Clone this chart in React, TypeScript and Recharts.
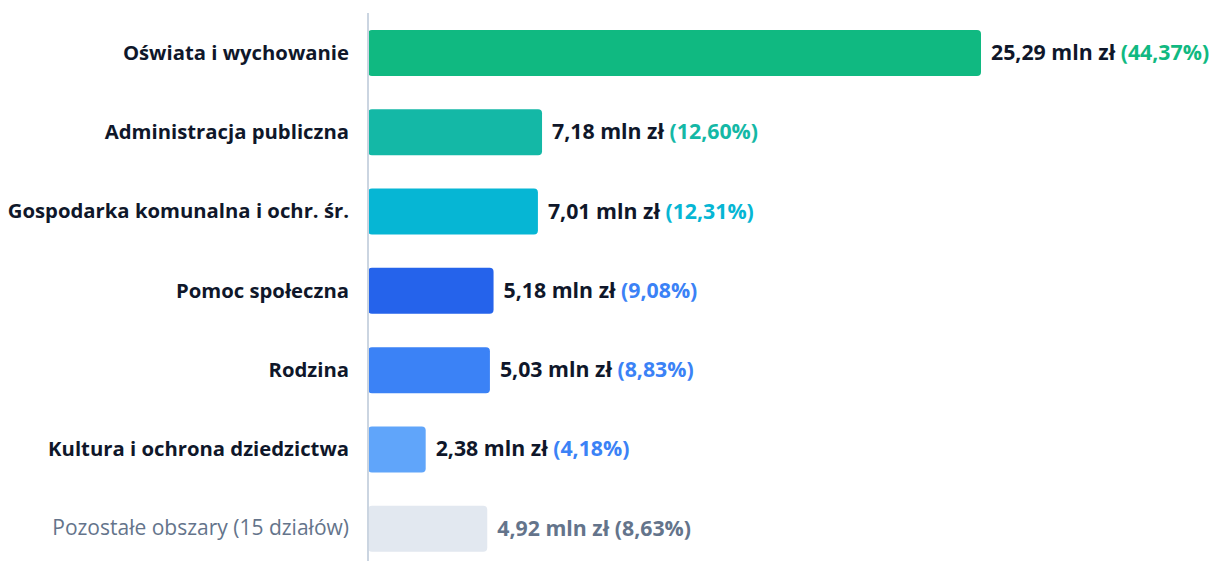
import React from "react";
import { Bar, BarChart, Cell, LabelList, XAxis, YAxis } from "recharts";

const categories = [
  "Oświata i wychowanie",
  "Administracja publiczna",
  "Gospodarka komunalna i ochr. śr.",
  "Pomoc społeczna",
  "Rodzina",
  "Kultura i ochrona dziedzictwa",
  "Pozostałe obszary (15 działów)",
];
const amounts = [25.29, 7.18, 7.01, 5.18, 5.03, 2.38, 4.92];
const shares = [44.37, 12.6, 12.31, 9.08, 8.83, 4.18, 8.63];
const barColors = ["#10b981", "#14b8a6", "#06b6d4", "#2563eb", "#3b82f6", "#60a5fa", "#e2e8f0"];
const shareColors = ["#10b981", "#14b8a6", "#06b6d4", "#3b82f6", "#3b82f6", "#3b82f6", "#64748b"];

const data = categories.map((name, i) => ({
  name,
  value: amounts[i],
  share: shares[i],
  idx: i,
}));

const FONT = "'Open Sans', 'Noto Sans', sans-serif";
const DARK = "#0f172a";
const GRAY = "#64748b";
const fmt = (n: number) => n.toFixed(2).replace(".", ",");

const lastIdx = categories.length - 1;

const CategoryTick = (props: any) => {
  const { y, payload, index } = props;
  const other = index === lastIdx;
  return (
    <text
      x={349}
      y={y}
      dy={7}
      textAnchor="end"
      fontFamily={FONT}
      fontSize={other ? 21 : 20.3}
      fontWeight={other ? 400 : 700}
      fill={other ? GRAY : DARK}
    >
      {payload.value}
    </text>
  );
};

const ValueLabel = (props: any) => {
  const { x, y, width, height, index } = props;
  const other = index === lastIdx;
  return (
    <text
      x={x + width + 10}
      y={y + height / 2}
      dy={7}
      fontFamily={FONT}
      fontSize={21.3}
      fontWeight={700}
      fill={other ? GRAY : DARK}
    >
      {fmt(amounts[index])} mln zł{" "}
      <tspan fill={shareColors[index]}>({fmt(shares[index])}%)</tspan>
    </text>
  );
};

export default function App() {
  return (
    <div style={{ position: "absolute", left: 0, top: 0 }}>
      <BarChart
        width={1214}
        height={568}
        data={data}
        layout="vertical"
        margin={{ top: 13, right: 233, left: 0, bottom: 0 }}
        style={{ overflow: "visible" }}
      >
        <XAxis type="number" hide domain={[0, "dataMax"]} />
        <YAxis
          type="category"
          dataKey="name"
          width={368}
          tickLine={false}
          axisLine={{ stroke: "#cbd5e1", strokeWidth: 2 }}
          tick={<CategoryTick />}
          interval={0}
        />
        <Bar dataKey="value" barSize={46} radius={4} isAnimationActive={false}>
          {data.map((d) => (
            <Cell key={d.name} fill={barColors[d.idx]} />
          ))}
          <LabelList dataKey="value" content={<ValueLabel />} />
        </Bar>
      </BarChart>
    </div>
  );
}
